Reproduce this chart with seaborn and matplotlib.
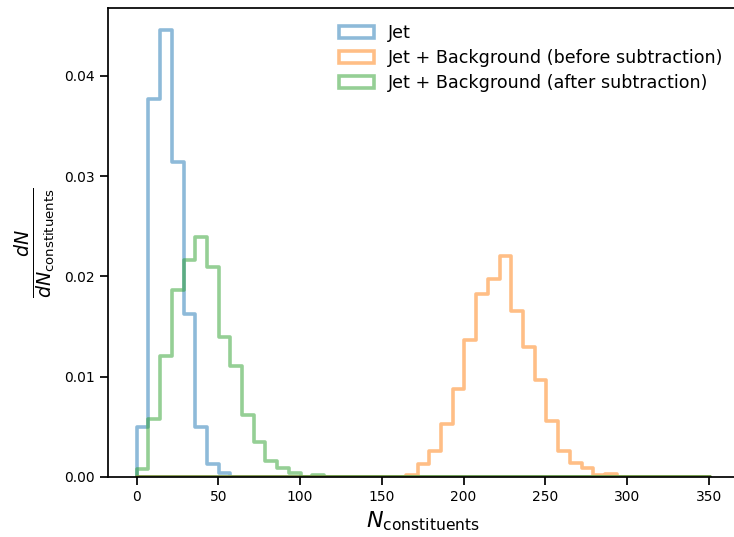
import numpy as np
import matplotlib
matplotlib.use('Agg')
import matplotlib.pyplot as plt
import seaborn as sns
from matplotlib.colors import to_rgba

sns.set_theme(style='ticks', context='notebook')
plt.rcParams['font.family'] = ['DejaVu Sans']
plt.rcParams.update({'text.color': 'black', 'axes.labelcolor': 'black',
                     'axes.edgecolor': 'black', 'xtick.color': 'black',
                     'ytick.color': 'black'})

# common binning: 49 bins from 0 to ~351 constituents
edges = np.linspace(0, 351, 50)

# density per bin (first non-empty bin index + values)
jet_start = 0
jet_vals = [0.00502, 0.03768, 0.04452, 0.03139, 0.01623, 0.00496, 0.0013, 0.0004]

before_start = 23
before_vals = [0.0002, 0.00127, 0.00262, 0.00525, 0.00878, 0.01363, 0.01825,
               0.01975, 0.02198, 0.01659, 0.0130, 0.0097, 0.00562, 0.00262,
               0.00143, 0.00087, 0.0002, 0.00027]

after_start = 0
after_vals = [0.0008, 0.00579, 0.01207, 0.01865, 0.02158, 0.02394, 0.02095,
              0.0140, 0.0111, 0.00618, 0.00352, 0.0016, 0.0009, 0.0004,
              0.0, 0.0002]

labels = ['Jet',
          'Jet + Background (before subtraction)',
          'Jet + Background (after subtraction)']
colors = ['#1f77b4', '#ff7f0e', '#2ca02c']


def full_bins(start, vals):
    h = np.zeros(len(edges) - 1)
    h[start:start + len(vals)] = vals
    return h


centers = 0.5 * (edges[:-1] + edges[1:])
series = [full_bins(jet_start, jet_vals),
          full_bins(before_start, before_vals),
          full_bins(after_start, after_vals)]

fig = plt.figure(figsize=(7.34, 5.37), dpi=100)
ax = fig.add_axes([108 / 734, 60 / 537, 631 / 734, 469 / 537])

for h, lab, c in zip(series, labels, colors):
    sns.histplot(x=centers, weights=h, bins=list(edges), element='step',
                 fill=True, color=c, facecolor='none',
                 edgecolor=to_rgba(c, 0.5), linewidth=2.6, label=lab, ax=ax)

ymax = max(s.max() for s in series)
ax.set_xlim(-0.05 * edges[-1], 1.05 * edges[-1])
ax.set_ylim(0, ymax * 1.05)
ax.set_yticks([0, 0.01, 0.02, 0.03, 0.04])
ax.tick_params(labelsize=10)
ax.set_xlabel(r'$N_{\mathrm{constituents}}$', fontsize=16)
ax.set_ylabel(r'$\frac{dN}{dN_{\mathrm{constituents}}}$', fontsize=19.5)
ax.legend(frameon=False, loc='upper right', fontsize=12.6,
          labelspacing=0.4)

fig.savefig('out.png', dpi=100)
